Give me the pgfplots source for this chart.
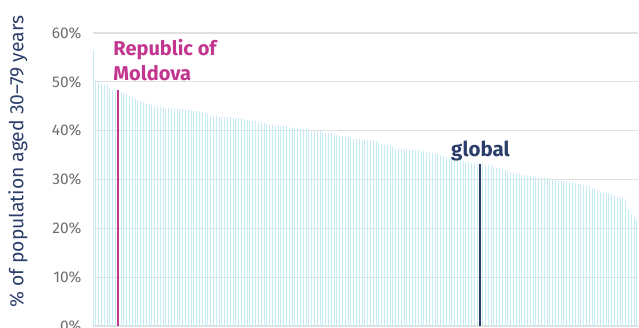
\documentclass[border=0pt]{standalone}
\usepackage{fontspec}
\setmainfont{Fira Sans}
\usepackage{pgfplots}
\usepackage{pgfplotstable}
\pgfplotsset{compat=1.18}
\definecolor{barblue}{HTML}{C8ECF6}
\definecolor{moldova}{HTML}{C2368F}
\definecolor{navy}{HTML}{2C3E6B}
\definecolor{gridgray}{HTML}{E0E0E0}
\definecolor{tickgray}{HTML}{6E6E6E}
\pgfplotstableread{
v
56.5
50.2
50.1
49.5
49.4
49.3
48.5
48.4
48.4
48.3
48.0
47.7
47.4
47.1
46.8
46.5
46.3
46.1
45.9
45.6
45.4
45.2
45.0
44.9
44.8
44.7
44.7
44.6
44.6
44.5
44.5
44.4
44.4
44.3
44.2
44.2
44.1
44.1
44.0
43.8
43.6
43.4
43.2
43.1
43.0
42.9
42.8
42.8
42.7
42.7
42.6
42.6
42.5
42.5
42.4
42.2
42.0
42.0
41.9
41.8
41.6
41.5
41.4
41.2
41.1
41.0
41.0
41.0
40.9
40.9
40.8
40.6
40.5
40.5
40.4
40.4
40.3
40.1
40.0
40.0
39.9
39.9
39.7
39.6
39.6
39.5
39.4
39.1
39.0
38.9
38.8
38.7
38.4
38.3
38.2
38.2
38.1
38.1
38.1
38.0
38.0
37.9
37.5
37.2
37.1
37.0
36.9
36.6
36.3
36.2
36.2
36.2
36.1
36.1
36.0
36.0
36.0
35.9
35.8
35.7
35.5
35.4
35.3
35.2
35.0
34.9
34.6
34.4
34.2
34.1
34.0
33.9
33.8
33.6
33.5
33.4
33.3
33.2
33.2
33.1
33.0
32.9
32.7
32.5
32.3
32.3
32.2
32.0
31.8
31.5
31.3
31.2
31.1
31.0
30.9
30.8
30.7
30.7
30.6
30.5
30.4
30.4
30.3
30.2
30.0
29.9
29.8
29.7
29.6
29.5
29.5
29.4
29.2
29.1
29.0
28.9
28.8
28.6
28.3
28.0
27.6
27.4
27.3
27.3
27.2
27.1
26.8
26.5
26.3
26.2
26.1
24.0
23.0
22.3
21.7
}\countries
\begin{document}
\begin{tikzpicture}[x=1pt,y=1pt]
\path[use as bounding box] (0,0) rectangle (639,327);
\clip (0,0) rectangle (639,327);
\begin{axis}[
  at={(93pt,1pt)}, anchor=south west,
  scale only axis, width=545pt, height=293pt,
  xmin=0, xmax=194.4, ymin=0, ymax=60,
  axis line style={draw=none},
  major tick length=0pt,
  xtick=\empty,
  ytick={0,10,20,30,40,50,60},
  /pgf/number format/assume math mode=true,
  yticklabel={\pgfmathprintnumber{\tick}\%},
  yticklabel style={font=\fontsize{15.5}{18}\selectfont, text=tickgray, anchor=east, xshift=-8pt},
  ymajorgrids, grid style={gridgray, line width=1.2pt},
  ylabel={\% of population aged 30–79 years},
  every axis y label/.style={at={(axis description cs:-0.1376,0.561)}, rotate=90, anchor=center, font=\fontsize{19.3}{23}\selectfont, text=navy},
  clip=true,
]
\addplot[ycomb, draw=barblue, line width=1pt, mark=none] table[x expr=\coordindex, y=v] {\countries};
\addplot[ycomb, draw=moldova, line width=2pt, mark=none] coordinates {(8.9,48.3)};
\addplot[ycomb, draw=navy, line width=2pt, mark=none] coordinates {(138,33.2)};
\node[anchor=base west, inner sep=0pt, font=\bfseries\fontsize{20}{24}\selectfont, text=moldova] at (axis cs:7.24,55.3) {Republic of};
\node[anchor=base west, inner sep=0pt, font=\bfseries\fontsize{20}{24}\selectfont, text=moldova] at (axis cs:7.24,50.2) {Moldova};
\node[anchor=base, inner sep=0pt, font=\bfseries\fontsize{20.5}{24}\selectfont, text=navy] at (axis cs:138.2,34.7) {global};
\end{axis}
\end{tikzpicture}
\end{document}
